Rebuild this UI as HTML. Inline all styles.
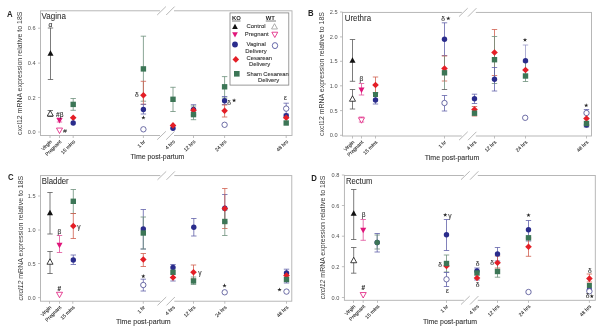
<!DOCTYPE html>
<html><head><meta charset="utf-8"><style>
html,body{margin:0;padding:0;background:#fff;width:602px;height:332px;overflow:hidden}
svg{display:block;filter:blur(0.35px)}
text{font-family:"Liberation Sans",sans-serif}
</style></head><body>
<svg width="602" height="332" viewBox="0 0 602 332">
<rect width="602" height="332" fill="#fff"/>
<rect x="40.5" y="10.8" width="251.5" height="124.7" fill="none" stroke="#b0b0b0" stroke-width="0.9"/>
<path d="M38.0 28.2H40.5" stroke="#b0b0b0" stroke-width="0.8"/>
<text x="35.5" y="30.25" font-size="5.6" text-anchor="end" fill="#505050" stroke="#505050" stroke-width="0" >0.6</text>
<path d="M38.0 63.1H40.5" stroke="#b0b0b0" stroke-width="0.8"/>
<text x="35.5" y="65.15" font-size="5.6" text-anchor="end" fill="#505050" stroke="#505050" stroke-width="0" >0.4</text>
<path d="M38.0 97.5H40.5" stroke="#b0b0b0" stroke-width="0.8"/>
<text x="35.5" y="99.55" font-size="5.6" text-anchor="end" fill="#505050" stroke="#505050" stroke-width="0" >0.2</text>
<path d="M38.0 132H40.5" stroke="#b0b0b0" stroke-width="0.8"/>
<text x="35.5" y="134.05" font-size="5.6" text-anchor="end" fill="#505050" stroke="#505050" stroke-width="0" >0.0</text>
<text transform="translate(21.8 73.3) rotate(-90)" font-size="6.9" text-anchor="middle" fill="#3a3a3a" textLength="123.4" lengthAdjust="spacingAndGlyphs">cxcl12 mRNA expression relative to 18S</text>
<path d="M50 135.5V138.0" stroke="#b0b0b0" stroke-width="0.8"/>
<text transform="translate(52.2 142.0) rotate(-45)" font-size="5.0" text-anchor="end" fill="#2a2a2a" stroke="#2a2a2a" stroke-width="0.1">Virgin</text>
<path d="M59.5 135.5V138.0" stroke="#b0b0b0" stroke-width="0.8"/>
<text transform="translate(61.7 142.0) rotate(-45)" font-size="5.0" text-anchor="end" fill="#2a2a2a" stroke="#2a2a2a" stroke-width="0.1">Pregnant</text>
<path d="M73.2 135.5V138.0" stroke="#b0b0b0" stroke-width="0.8"/>
<text transform="translate(75.4 142.0) rotate(-45)" font-size="5.0" text-anchor="end" fill="#2a2a2a" stroke="#2a2a2a" stroke-width="0.1">15 mins</text>
<path d="M143.4 135.5V138.0" stroke="#b0b0b0" stroke-width="0.8"/>
<text transform="translate(145.6 142.0) rotate(-45)" font-size="5.0" text-anchor="end" fill="#2a2a2a" stroke="#2a2a2a" stroke-width="0.1">1 hr</text>
<path d="M173 135.5V138.0" stroke="#b0b0b0" stroke-width="0.8"/>
<text transform="translate(175.2 142.0) rotate(-45)" font-size="5.0" text-anchor="end" fill="#2a2a2a" stroke="#2a2a2a" stroke-width="0.1">4 hrs</text>
<path d="M193.5 135.5V138.0" stroke="#b0b0b0" stroke-width="0.8"/>
<text transform="translate(195.7 142.0) rotate(-45)" font-size="5.0" text-anchor="end" fill="#2a2a2a" stroke="#2a2a2a" stroke-width="0.1">12 hrs</text>
<path d="M224.6 135.5V138.0" stroke="#b0b0b0" stroke-width="0.8"/>
<text transform="translate(226.79999999999998 142.0) rotate(-45)" font-size="5.0" text-anchor="end" fill="#2a2a2a" stroke="#2a2a2a" stroke-width="0.1">24 hrs</text>
<path d="M286.2 135.5V138.0" stroke="#b0b0b0" stroke-width="0.8"/>
<text transform="translate(288.4 142.0) rotate(-45)" font-size="5.0" text-anchor="end" fill="#2a2a2a" stroke="#2a2a2a" stroke-width="0.1">48 hrs</text>
<text x="130.4" y="159.2" font-size="6.95" text-anchor="start" fill="#333" stroke="#333" stroke-width="0.1" textLength="54.0" lengthAdjust="spacingAndGlyphs">Time post-partum</text>
<text x="7" y="16.8" font-size="9" font-weight="bold" fill="#222" textLength="5.6" lengthAdjust="spacingAndGlyphs">A</text>
<text x="41.5" y="18.8" font-size="8.6" text-anchor="start" fill="#2a2a2a" stroke="#2a2a2a" stroke-width="0.05" textLength="24.400000000000006" lengthAdjust="spacingAndGlyphs">Vagina</text>
<rect x="342.5" y="12.4" width="249.0" height="123.6" fill="none" stroke="#b0b0b0" stroke-width="0.9"/>
<path d="M340.0 12H342.5" stroke="#b0b0b0" stroke-width="0.8"/>
<text x="337.5" y="14.05" font-size="5.6" text-anchor="end" fill="#505050" stroke="#505050" stroke-width="0" >2.5</text>
<path d="M340.0 36.9H342.5" stroke="#b0b0b0" stroke-width="0.8"/>
<text x="337.5" y="38.949999999999996" font-size="5.6" text-anchor="end" fill="#505050" stroke="#505050" stroke-width="0" >2.0</text>
<path d="M340.0 61.3H342.5" stroke="#b0b0b0" stroke-width="0.8"/>
<text x="337.5" y="63.349999999999994" font-size="5.6" text-anchor="end" fill="#505050" stroke="#505050" stroke-width="0" >1.5</text>
<path d="M340.0 85.8H342.5" stroke="#b0b0b0" stroke-width="0.8"/>
<text x="337.5" y="87.85" font-size="5.6" text-anchor="end" fill="#505050" stroke="#505050" stroke-width="0" >1.0</text>
<path d="M340.0 110.6H342.5" stroke="#b0b0b0" stroke-width="0.8"/>
<text x="337.5" y="112.64999999999999" font-size="5.6" text-anchor="end" fill="#505050" stroke="#505050" stroke-width="0" >0.5</text>
<path d="M340.0 135.3H342.5" stroke="#b0b0b0" stroke-width="0.8"/>
<text x="337.5" y="137.35000000000002" font-size="5.6" text-anchor="end" fill="#505050" stroke="#505050" stroke-width="0" >0.0</text>
<text transform="translate(324.1 74.0) rotate(-90)" font-size="6.9" text-anchor="middle" fill="#3a3a3a" textLength="124" lengthAdjust="spacingAndGlyphs">cxcl12 mRNA expression relative to 18S</text>
<path d="M352.5 136V138.5" stroke="#b0b0b0" stroke-width="0.8"/>
<text transform="translate(354.7 142.5) rotate(-45)" font-size="5.0" text-anchor="end" fill="#2a2a2a" stroke="#2a2a2a" stroke-width="0.1">Virgin</text>
<path d="M361.5 136V138.5" stroke="#b0b0b0" stroke-width="0.8"/>
<text transform="translate(363.7 142.5) rotate(-45)" font-size="5.0" text-anchor="end" fill="#2a2a2a" stroke="#2a2a2a" stroke-width="0.1">Pregnant</text>
<path d="M375.5 136V138.5" stroke="#b0b0b0" stroke-width="0.8"/>
<text transform="translate(377.7 142.5) rotate(-45)" font-size="5.0" text-anchor="end" fill="#2a2a2a" stroke="#2a2a2a" stroke-width="0.1">15 mins</text>
<path d="M444.5 136V138.5" stroke="#b0b0b0" stroke-width="0.8"/>
<text transform="translate(446.7 142.5) rotate(-45)" font-size="5.0" text-anchor="end" fill="#2a2a2a" stroke="#2a2a2a" stroke-width="0.1">1 hr</text>
<path d="M474.5 136V138.5" stroke="#b0b0b0" stroke-width="0.8"/>
<text transform="translate(476.7 142.5) rotate(-45)" font-size="5.0" text-anchor="end" fill="#2a2a2a" stroke="#2a2a2a" stroke-width="0.1">4 hrs</text>
<path d="M494.5 136V138.5" stroke="#b0b0b0" stroke-width="0.8"/>
<text transform="translate(496.7 142.5) rotate(-45)" font-size="5.0" text-anchor="end" fill="#2a2a2a" stroke="#2a2a2a" stroke-width="0.1">12 hrs</text>
<path d="M525.5 136V138.5" stroke="#b0b0b0" stroke-width="0.8"/>
<text transform="translate(527.7 142.5) rotate(-45)" font-size="5.0" text-anchor="end" fill="#2a2a2a" stroke="#2a2a2a" stroke-width="0.1">24 hrs</text>
<path d="M586.5 136V138.5" stroke="#b0b0b0" stroke-width="0.8"/>
<text transform="translate(588.7 142.5) rotate(-45)" font-size="5.0" text-anchor="end" fill="#2a2a2a" stroke="#2a2a2a" stroke-width="0.1">48 hrs</text>
<text x="424.8" y="159.8" font-size="6.95" text-anchor="start" fill="#333" stroke="#333" stroke-width="0.1" textLength="54.39999999999998" lengthAdjust="spacingAndGlyphs">Time post-partum</text>
<text x="308" y="16.3" font-size="9" font-weight="bold" fill="#222" textLength="5.6" lengthAdjust="spacingAndGlyphs">B</text>
<text x="344.7" y="21.2" font-size="8.6" text-anchor="start" fill="#2a2a2a" stroke="#2a2a2a" stroke-width="0.05" textLength="26.350000000000023" lengthAdjust="spacingAndGlyphs">Urethra</text>
<rect x="40.5" y="175.6" width="251.3" height="125.6" fill="none" stroke="#b0b0b0" stroke-width="0.9"/>
<path d="M38.0 196H40.5" stroke="#b0b0b0" stroke-width="0.8"/>
<text x="35.5" y="198.05" font-size="5.6" text-anchor="end" fill="#505050" stroke="#505050" stroke-width="0" >1.5</text>
<path d="M38.0 230H40.5" stroke="#b0b0b0" stroke-width="0.8"/>
<text x="35.5" y="232.05" font-size="5.6" text-anchor="end" fill="#505050" stroke="#505050" stroke-width="0" >1.0</text>
<path d="M38.0 263.5H40.5" stroke="#b0b0b0" stroke-width="0.8"/>
<text x="35.5" y="265.55" font-size="5.6" text-anchor="end" fill="#505050" stroke="#505050" stroke-width="0" >0.5</text>
<path d="M38.0 297.6H40.5" stroke="#b0b0b0" stroke-width="0.8"/>
<text x="35.5" y="299.65000000000003" font-size="5.6" text-anchor="end" fill="#505050" stroke="#505050" stroke-width="0" >0.0</text>
<text transform="translate(22.6 238.15) rotate(-90)" font-size="6.9" text-anchor="middle" fill="#3a3a3a" textLength="124.90000000000003" lengthAdjust="spacingAndGlyphs"><tspan font-style="italic">cxcl12</tspan> mRNA expression relative to 18S</text>
<path d="M49.5 301.2V303.7" stroke="#b0b0b0" stroke-width="0.8"/>
<text transform="translate(51.7 307.7) rotate(-45)" font-size="5.0" text-anchor="end" fill="#2a2a2a" stroke="#2a2a2a" stroke-width="0.1">Virgin</text>
<path d="M59.5 301.2V303.7" stroke="#b0b0b0" stroke-width="0.8"/>
<text transform="translate(61.7 307.7) rotate(-45)" font-size="5.0" text-anchor="end" fill="#2a2a2a" stroke="#2a2a2a" stroke-width="0.1">Pregnant</text>
<path d="M72.8 301.2V303.7" stroke="#b0b0b0" stroke-width="0.8"/>
<text transform="translate(75.0 307.7) rotate(-45)" font-size="5.0" text-anchor="end" fill="#2a2a2a" stroke="#2a2a2a" stroke-width="0.1">15 mins</text>
<path d="M143.3 301.2V303.7" stroke="#b0b0b0" stroke-width="0.8"/>
<text transform="translate(145.5 307.7) rotate(-45)" font-size="5.0" text-anchor="end" fill="#2a2a2a" stroke="#2a2a2a" stroke-width="0.1">1 hr</text>
<path d="M173 301.2V303.7" stroke="#b0b0b0" stroke-width="0.8"/>
<text transform="translate(175.2 307.7) rotate(-45)" font-size="5.0" text-anchor="end" fill="#2a2a2a" stroke="#2a2a2a" stroke-width="0.1">4 hrs</text>
<path d="M193.5 301.2V303.7" stroke="#b0b0b0" stroke-width="0.8"/>
<text transform="translate(195.7 307.7) rotate(-45)" font-size="5.0" text-anchor="end" fill="#2a2a2a" stroke="#2a2a2a" stroke-width="0.1">12 hrs</text>
<path d="M224.8 301.2V303.7" stroke="#b0b0b0" stroke-width="0.8"/>
<text transform="translate(227.0 307.7) rotate(-45)" font-size="5.0" text-anchor="end" fill="#2a2a2a" stroke="#2a2a2a" stroke-width="0.1">24 hrs</text>
<path d="M286.5 301.2V303.7" stroke="#b0b0b0" stroke-width="0.8"/>
<text transform="translate(288.7 307.7) rotate(-45)" font-size="5.0" text-anchor="end" fill="#2a2a2a" stroke="#2a2a2a" stroke-width="0.1">48 hrs</text>
<text x="116" y="324.1" font-size="6.95" text-anchor="start" fill="#333" stroke="#333" stroke-width="0.1" textLength="54.69999999999999" lengthAdjust="spacingAndGlyphs">Time post-partum</text>
<text x="7.9" y="180.2" font-size="9" font-weight="bold" fill="#222" textLength="5.6" lengthAdjust="spacingAndGlyphs">C</text>
<text x="41.8" y="183.8" font-size="8.6" text-anchor="start" fill="#2a2a2a" stroke="#2a2a2a" stroke-width="0.05" textLength="26.900000000000006" lengthAdjust="spacingAndGlyphs">Bladder</text>
<rect x="344.4" y="175.5" width="250.89999999999998" height="124.80000000000001" fill="none" stroke="#b0b0b0" stroke-width="0.9"/>
<path d="M341.9 175H344.4" stroke="#b0b0b0" stroke-width="0.8"/>
<text x="339.4" y="177.05" font-size="5.6" text-anchor="end" fill="#505050" stroke="#505050" stroke-width="0" >0.8</text>
<path d="M341.9 205.5H344.4" stroke="#b0b0b0" stroke-width="0.8"/>
<text x="339.4" y="207.55" font-size="5.6" text-anchor="end" fill="#505050" stroke="#505050" stroke-width="0" >0.6</text>
<path d="M341.9 236.2H344.4" stroke="#b0b0b0" stroke-width="0.8"/>
<text x="339.4" y="238.25" font-size="5.6" text-anchor="end" fill="#505050" stroke="#505050" stroke-width="0" >0.4</text>
<path d="M341.9 266.7H344.4" stroke="#b0b0b0" stroke-width="0.8"/>
<text x="339.4" y="268.75" font-size="5.6" text-anchor="end" fill="#505050" stroke="#505050" stroke-width="0" >0.2</text>
<path d="M341.9 297.5H344.4" stroke="#b0b0b0" stroke-width="0.8"/>
<text x="339.4" y="299.55" font-size="5.6" text-anchor="end" fill="#505050" stroke="#505050" stroke-width="0" >0.0</text>
<text transform="translate(324.8 237.5) rotate(-90)" font-size="6.9" text-anchor="middle" fill="#3a3a3a" textLength="123.60000000000002" lengthAdjust="spacingAndGlyphs"><tspan font-style="italic">cxcl12</tspan> mRNA expression relative to 18S</text>
<path d="M353.5 300.3V302.8" stroke="#b0b0b0" stroke-width="0.8"/>
<text transform="translate(355.7 306.8) rotate(-45)" font-size="5.0" text-anchor="end" fill="#2a2a2a" stroke="#2a2a2a" stroke-width="0.1">Virgin</text>
<path d="M363.2 300.3V302.8" stroke="#b0b0b0" stroke-width="0.8"/>
<text transform="translate(365.4 306.8) rotate(-45)" font-size="5.0" text-anchor="end" fill="#2a2a2a" stroke="#2a2a2a" stroke-width="0.1">Pregnant</text>
<path d="M377.5 300.3V302.8" stroke="#b0b0b0" stroke-width="0.8"/>
<text transform="translate(379.7 306.8) rotate(-45)" font-size="5.0" text-anchor="end" fill="#2a2a2a" stroke="#2a2a2a" stroke-width="0.1">15 mins</text>
<path d="M446.5 300.3V302.8" stroke="#b0b0b0" stroke-width="0.8"/>
<text transform="translate(448.7 306.8) rotate(-45)" font-size="5.0" text-anchor="end" fill="#2a2a2a" stroke="#2a2a2a" stroke-width="0.1">1 hr</text>
<path d="M477 300.3V302.8" stroke="#b0b0b0" stroke-width="0.8"/>
<text transform="translate(479.2 306.8) rotate(-45)" font-size="5.0" text-anchor="end" fill="#2a2a2a" stroke="#2a2a2a" stroke-width="0.1">4 hrs</text>
<path d="M497.5 300.3V302.8" stroke="#b0b0b0" stroke-width="0.8"/>
<text transform="translate(499.7 306.8) rotate(-45)" font-size="5.0" text-anchor="end" fill="#2a2a2a" stroke="#2a2a2a" stroke-width="0.1">12 hrs</text>
<path d="M528.5 300.3V302.8" stroke="#b0b0b0" stroke-width="0.8"/>
<text transform="translate(530.7 306.8) rotate(-45)" font-size="5.0" text-anchor="end" fill="#2a2a2a" stroke="#2a2a2a" stroke-width="0.1">24 hrs</text>
<path d="M589.4 300.3V302.8" stroke="#b0b0b0" stroke-width="0.8"/>
<text transform="translate(591.6 306.8) rotate(-45)" font-size="5.0" text-anchor="end" fill="#2a2a2a" stroke="#2a2a2a" stroke-width="0.1">48 hrs</text>
<text x="423" y="324.1" font-size="6.95" text-anchor="start" fill="#333" stroke="#333" stroke-width="0.1" textLength="54.10000000000002" lengthAdjust="spacingAndGlyphs">Time post-partum</text>
<text x="311.3" y="180.6" font-size="9" font-weight="bold" fill="#222" textLength="5.6" lengthAdjust="spacingAndGlyphs">D</text>
<text x="345.9" y="183.8" font-size="8.6" text-anchor="start" fill="#2a2a2a" stroke="#2a2a2a" stroke-width="0.05" textLength="26.5" lengthAdjust="spacingAndGlyphs">Rectum</text>
<rect x="160" y="9.3" width="14" height="4.5" fill="#fff"/>
<path d="M157.2 15.0L165.9 6.6000000000000005M166.2 15.0L174.6 6.6000000000000005" stroke="#999" stroke-width="0.7"/>
<rect x="160" y="134.0" width="14" height="4.5" fill="#fff"/>
<path d="M157.2 139.7L165.9 131.3M166.2 139.7L174.6 131.3" stroke="#999" stroke-width="0.7"/>
<rect x="461.8" y="10.9" width="14" height="4.5" fill="#fff"/>
<path d="M459.0 16.6L467.7 8.2M468.0 16.6L476.40000000000003 8.2" stroke="#999" stroke-width="0.7"/>
<rect x="461.8" y="134.5" width="14" height="4.5" fill="#fff"/>
<path d="M459.0 140.2L467.7 131.8M468.0 140.2L476.40000000000003 131.8" stroke="#999" stroke-width="0.7"/>
<rect x="160.3" y="174.1" width="14" height="4.5" fill="#fff"/>
<path d="M157.5 179.79999999999998L166.20000000000002 171.4M166.5 179.79999999999998L174.9 171.4" stroke="#999" stroke-width="0.7"/>
<rect x="160.3" y="299.7" width="14" height="4.5" fill="#fff"/>
<path d="M157.5 305.4L166.20000000000002 297.0M166.5 305.4L174.9 297.0" stroke="#999" stroke-width="0.7"/>
<rect x="463.8" y="174.0" width="14" height="4.5" fill="#fff"/>
<path d="M461.0 179.7L469.7 171.3M470.0 179.7L478.40000000000003 171.3" stroke="#999" stroke-width="0.7"/>
<rect x="463.8" y="298.8" width="14" height="4.5" fill="#fff"/>
<path d="M461.0 304.5L469.7 296.1M470.0 304.5L478.40000000000003 296.1" stroke="#999" stroke-width="0.7"/>
<path d="M50.5 28V79.5M47.8 28H53.2M47.8 79.5H53.2" stroke="#5a5a5a" stroke-width="0.8" fill="none"/>
<path d="M50.5 50.3L53.54 55.74L47.46 55.74Z" fill="#111111"/>
<text x="50.5" y="27" font-size="6.6" text-anchor="middle" fill="#333" stroke="#333" stroke-width="0.12" font-family="Liberation Sans">&#945;</text>
<path d="M50.3 110.5V116.5M47.599999999999994 110.5H53.0M47.599999999999994 116.5H53.0" stroke="#5a5a5a" stroke-width="0.8" fill="none"/>
<path d="M50.3 110.6L53.339999999999996 116.03999999999999L47.26 116.03999999999999Z" fill="#fff" stroke="#111111" stroke-width="0.8"/>
<path d="M59.5 118V122M56.8 118H62.2M56.8 122H62.2" stroke="#e0509a" stroke-width="0.8" fill="none"/>
<path d="M59.5 123.4L62.54 117.96000000000001L56.46 117.96000000000001Z" fill="#e0157a"/>
<text x="56" y="116.5" font-size="6.6" text-anchor="start" fill="#2a2a2a" stroke="#2a2a2a" stroke-width="0.1" >#&#946;</text>
<path d="M59.5 133.5L62.54 128.06L56.46 128.06Z" fill="#fff" stroke="#e0157a" stroke-width="0.8"/>
<text x="63.3" y="133.2" font-size="6.2" text-anchor="start" fill="#333" stroke="#333" stroke-width="0.1" >#</text>
<path d="M73.2 98.5V110.3M70.5 98.5H75.9M70.5 110.3H75.9" stroke="#6e907c" stroke-width="0.8" fill="none"/>
<rect x="70.5" y="101.7" width="5.4" height="5.4" fill="#3c7656"/>
<path d="M73.2 114.4L76.5 117.7L73.2 121.0L69.9 117.7Z" fill="#e41e26"/>
<circle cx="73.2" cy="123" r="2.7" fill="#2a2c8c"/>
<path d="M143.4 36.2V101.2M140.70000000000002 36.2H146.1M140.70000000000002 101.2H146.1" stroke="#6e907c" stroke-width="0.8" fill="none"/>
<path d="M143.4 81.3V104.3M140.70000000000002 81.3H146.1M140.70000000000002 104.3H146.1" stroke="#d0604f" stroke-width="0.8" fill="none"/>
<path d="M143.4 104.3V114M140.70000000000002 104.3H146.1M140.70000000000002 114H146.1" stroke="#6262aa" stroke-width="0.8" fill="none"/>
<rect x="140.70000000000002" y="66.2" width="5.4" height="5.4" fill="#3c7656"/>
<path d="M143.4 92.0L146.70000000000002 95.3L143.4 98.6L140.1 95.3Z" fill="#e41e26"/>
<text x="136.8" y="97.3" font-size="6.6" text-anchor="middle" fill="#333" stroke="#333" stroke-width="0.12" font-family="Liberation Sans">&#948;</text>
<circle cx="143.4" cy="109.5" r="2.7" fill="#2a2c8c"/>
<polygon points="143.40,115.30 143.91,116.89 145.59,116.89 144.23,117.87 144.75,119.46 143.40,118.47 142.05,119.46 142.57,117.87 141.21,116.89 142.89,116.89" fill="#222"/>
<circle cx="143.4" cy="129.3" r="2.7" fill="#fff" stroke="#4a4a90" stroke-width="0.8"/>
<path d="M173 87.3V111.5M170.3 87.3H175.7M170.3 111.5H175.7" stroke="#6e907c" stroke-width="0.8" fill="none"/>
<rect x="170.3" y="96.6" width="5.4" height="5.4" fill="#3c7656"/>
<circle cx="173" cy="128.2" r="2.7" fill="#2a2c8c"/>
<path d="M173 122.10000000000001L176.3 125.4L173 128.70000000000002L169.7 125.4Z" fill="#e41e26"/>
<path d="M193.5 104.7V115M190.8 104.7H196.2M190.8 115H196.2" stroke="#6262aa" stroke-width="0.8" fill="none"/>
<path d="M193.5 106V119.7M190.8 106H196.2M190.8 119.7H196.2" stroke="#6e907c" stroke-width="0.8" fill="none"/>
<circle cx="193.5" cy="109.5" r="2.7" fill="#2a2c8c"/>
<path d="M193.5 107.0L196.8 110.3L193.5 113.6L190.2 110.3Z" fill="#e41e26"/>
<rect x="190.8" y="111.89999999999999" width="5.4" height="5.4" fill="#3c7656"/>
<path d="M224.6 76.6V98M221.9 76.6H227.29999999999998M221.9 98H227.29999999999998" stroke="#6e907c" stroke-width="0.8" fill="none"/>
<path d="M224.6 96.5V104.5M221.9 96.5H227.29999999999998M221.9 104.5H227.29999999999998" stroke="#6262aa" stroke-width="0.8" fill="none"/>
<path d="M224.6 105V117M221.9 105H227.29999999999998M221.9 117H227.29999999999998" stroke="#d0604f" stroke-width="0.8" fill="none"/>
<rect x="221.9" y="84.1" width="5.4" height="5.4" fill="#3c7656"/>
<circle cx="224.6" cy="100.7" r="2.7" fill="#2a2c8c"/>
<text x="229.1" y="104.6" font-size="6.6" text-anchor="middle" fill="#333" stroke="#333" stroke-width="0.12" font-family="Liberation Sans">&#948;</text>
<polygon points="234.10,98.20 234.61,99.79 236.29,99.79 234.93,100.77 235.45,102.36 234.10,101.37 232.75,102.36 233.27,100.77 231.91,99.79 233.59,99.79" fill="#222"/>
<path d="M224.6 107.5L227.9 110.8L224.6 114.1L221.29999999999998 110.8Z" fill="#e41e26"/>
<circle cx="224.6" cy="124.8" r="2.7" fill="#fff" stroke="#4a4a90" stroke-width="0.8"/>
<text x="285.6" y="100.3" font-size="6.6" text-anchor="middle" fill="#333" stroke="#333" stroke-width="0.12" font-family="Liberation Sans">&#949;</text>
<path d="M286.2 103.2V114M283.5 103.2H288.9M283.5 114H288.9" stroke="#6262aa" stroke-width="0.8" fill="none"/>
<circle cx="286.2" cy="108.6" r="2.7" fill="#fff" stroke="#4a4a90" stroke-width="0.8"/>
<circle cx="286.2" cy="115.7" r="2.7" fill="#2a2c8c"/>
<path d="M286.2 114.5L289.5 117.8L286.2 121.1L282.9 117.8Z" fill="#e41e26"/>
<rect x="283.5" y="120.3" width="5.4" height="5.4" fill="#3c7656"/>
<rect x="230" y="12.9" width="58.8" height="72.2" fill="#fff" stroke="#808080" stroke-width="0.8"/>
<text x="232" y="20" font-size="5.9" font-weight="bold" fill="#222">KO</text><path d="M232 21H240.5" stroke="#222" stroke-width="0.6"/>
<text x="265.8" y="20" font-size="5.9" font-weight="bold" fill="#222">WT</text><path d="M265.8 21H276" stroke="#222" stroke-width="0.6"/>
<path d="M235 23.8L237.85 28.9L232.15 28.9Z" fill="#111111"/>
<text x="246.5" y="27.6" font-size="5.9" text-anchor="start" fill="#333" stroke="#333" stroke-width="0.1" >Control</text>
<path d="M274.5 23.7L277.445 28.97L271.555 28.97Z" fill="#fff" stroke="#999" stroke-width="0.8"/>
<path d="M235 37.4L237.85 32.3L232.15 32.3Z" fill="#e0157a"/>
<text x="244.8" y="36.3" font-size="5.9" text-anchor="start" fill="#333" stroke="#333" stroke-width="0.1" >Pregnant</text>
<path d="M274.8 37.5L277.745 32.23L271.855 32.23Z" fill="#fff" stroke="#e0157a" stroke-width="0.8"/>
<circle cx="235" cy="44.5" r="2.9" fill="#2a2c8c"/>
<text x="246.5" y="45.7" font-size="5.9" text-anchor="start" fill="#333" stroke="#333" stroke-width="0.1" >Vaginal</text>
<text x="245.3" y="52.5" font-size="5.9" text-anchor="start" fill="#333" stroke="#333" stroke-width="0.1" >Delivery</text>
<ellipse cx="275" cy="45.6" rx="2.7" ry="3.0" fill="#fff" stroke="#3a3c90" stroke-width="0.75"/>
<path d="M235.8 56.1L239.10000000000002 59.4L235.8 62.699999999999996L232.5 59.4Z" fill="#e41e26"/>
<text x="246.5" y="60.4" font-size="5.9" text-anchor="start" fill="#333" stroke="#333" stroke-width="0.1" >Cesarean</text>
<text x="249" y="66.4" font-size="5.9" text-anchor="start" fill="#333" stroke="#333" stroke-width="0.1" >Delivery</text>
<rect x="234.0" y="71.0" width="5.6" height="5.6" fill="#3c7656"/>
<text x="246.5" y="75.6" font-size="5.9" text-anchor="start" fill="#333" stroke="#333" stroke-width="0.1" textLength="42.2" lengthAdjust="spacingAndGlyphs">Sham Cesarean</text>
<text x="258" y="81.5" font-size="5.9" text-anchor="start" fill="#333" stroke="#333" stroke-width="0.1" >Delivery</text>
<path d="M352.5 39.5V81.3M349.8 39.5H355.2M349.8 81.3H355.2" stroke="#5a5a5a" stroke-width="0.8" fill="none"/>
<path d="M352.5 57.3L355.54 62.74L349.46 62.74Z" fill="#111111"/>
<path d="M352.5 89.5V109M349.8 89.5H355.2M349.8 109H355.2" stroke="#5a5a5a" stroke-width="0.8" fill="none"/>
<path d="M352.5 95.8L355.54 101.24L349.46 101.24Z" fill="#fff" stroke="#111111" stroke-width="0.8"/>
<text x="361.3" y="80.5" font-size="6.6" text-anchor="middle" fill="#333" stroke="#333" stroke-width="0.12" font-family="Liberation Sans">&#946;</text>
<path d="M361.5 83.5V95M358.8 83.5H364.2M358.8 95H364.2" stroke="#e0509a" stroke-width="0.8" fill="none"/>
<path d="M361.5 93.0L364.54 87.56L358.46 87.56Z" fill="#e0157a"/>
<path d="M361.5 117V122M358.8 117H364.2M358.8 122H364.2" stroke="#e0509a" stroke-width="0.8" fill="none"/>
<path d="M361.5 123.2L364.54 117.76L358.46 117.76Z" fill="#fff" stroke="#e0157a" stroke-width="0.8"/>
<path d="M375.5 77V92.5M372.8 77H378.2M372.8 92.5H378.2" stroke="#d0604f" stroke-width="0.8" fill="none"/>
<path d="M375.5 93V104M372.8 93H378.2M372.8 104H378.2" stroke="#6262aa" stroke-width="0.8" fill="none"/>
<path d="M375.5 81.7L378.8 85L375.5 88.3L372.2 85Z" fill="#e41e26"/>
<circle cx="375.5" cy="100" r="2.7" fill="#2a2c8c"/>
<rect x="373.0" y="92.0" width="5.0" height="5.0" fill="#3c7656"/>
<text x="443.2" y="20.8" font-size="6.6" text-anchor="middle" fill="#333" stroke="#333" stroke-width="0.12" font-family="Liberation Sans">&#948;</text>
<polygon points="448.30,16.20 448.81,17.79 450.49,17.79 449.13,18.77 449.65,20.36 448.30,19.37 446.95,20.36 447.47,18.77 446.11,17.79 447.79,17.79" fill="#222"/>
<path d="M444.5 22.8V55.5M441.8 22.8H447.2M441.8 55.5H447.2" stroke="#6262aa" stroke-width="0.8" fill="none"/>
<path d="M444.5 56V81M441.8 56H447.2M441.8 81H447.2" stroke="#d0604f" stroke-width="0.8" fill="none"/>
<path d="M444.5 56V89.5M444.5 56H444.5M444.5 89.5H444.5" stroke="#6e907c" stroke-width="0.8" fill="none"/>
<path d="M441.8 89.5H447.2" stroke="#5a5a5a" stroke-width="0.8"/>
<circle cx="444.5" cy="39.3" r="2.7" fill="#2a2c8c"/>
<path d="M444.5 65.2L447.8 68.5L444.5 71.8L441.2 68.5Z" fill="#e41e26"/>
<rect x="441.8" y="70.1" width="5.4" height="5.4" fill="#3c7656"/>
<path d="M444.5 95.5V111M441.8 95.5H447.2M441.8 111H447.2" stroke="#6262aa" stroke-width="0.8" fill="none"/>
<circle cx="444.5" cy="103" r="2.7" fill="#fff" stroke="#4a4a90" stroke-width="0.8"/>
<path d="M474.5 94.2V103.5M471.8 94.2H477.2M471.8 103.5H477.2" stroke="#6262aa" stroke-width="0.8" fill="none"/>
<path d="M474.5 106.5V116M471.8 106.5H477.2M471.8 116H477.2" stroke="#d0604f" stroke-width="0.8" fill="none"/>
<circle cx="474.5" cy="98.8" r="2.7" fill="#2a2c8c"/>
<path d="M474.5 106.2L477.8 109.5L474.5 112.8L471.2 109.5Z" fill="#e41e26"/>
<rect x="471.8" y="110.5" width="5.4" height="5.4" fill="#3c7656"/>
<path d="M494.5 29.5V75.5M491.8 29.5H497.2M491.8 75.5H497.2" stroke="#d0604f" stroke-width="0.8" fill="none"/>
<path d="M494.5 36.5V83.5M491.8 36.5H497.2M491.8 83.5H497.2" stroke="#6e907c" stroke-width="0.8" fill="none"/>
<path d="M494.5 67.5V91M491.8 67.5H497.2M491.8 91H497.2" stroke="#6262aa" stroke-width="0.8" fill="none"/>
<path d="M494.5 49.2L497.8 52.5L494.5 55.8L491.2 52.5Z" fill="#e41e26"/>
<rect x="491.8" y="57.0" width="5.4" height="5.4" fill="#3c7656"/>
<circle cx="494.5" cy="79.2" r="2.7" fill="#2a2c8c"/>
<polygon points="525.00,37.70 525.51,39.29 527.19,39.29 525.83,40.27 526.35,41.86 525.00,40.87 523.65,41.86 524.17,40.27 522.81,39.29 524.49,39.29" fill="#222"/>
<path d="M525.5 45V70M522.8 45H528.2M522.8 70H528.2" stroke="#9a9ac8" stroke-width="0.8" fill="none"/>
<path d="M525.5 62V81.5M522.8 62H528.2M522.8 81.5H528.2" stroke="#6e907c" stroke-width="0.8" fill="none"/>
<circle cx="525.5" cy="60.8" r="2.7" fill="#2a2c8c"/>
<path d="M525.5 66.7L528.8 70L525.5 73.3L522.2 70Z" fill="#e41e26"/>
<rect x="522.8" y="73.3" width="5.4" height="5.4" fill="#3c7656"/>
<circle cx="525.2" cy="117.8" r="2.7" fill="#fff" stroke="#4a4a90" stroke-width="0.8"/>
<polygon points="586.20,103.20 586.71,104.79 588.39,104.79 587.03,105.77 587.55,107.36 586.20,106.37 584.85,107.36 585.37,105.77 584.01,104.79 585.69,104.79" fill="#222"/>
<path d="M586.5 109.5V127M583.8 109.5H589.2M583.8 127H589.2" stroke="#6262aa" stroke-width="0.8" fill="none"/>
<circle cx="586.5" cy="113" r="2.7" fill="#fff" stroke="#4a4a90" stroke-width="0.8"/>
<circle cx="586.5" cy="125" r="2.7" fill="#2a2c8c"/>
<path d="M586.5 115.2L589.8 118.5L586.5 121.8L583.2 118.5Z" fill="#e41e26"/>
<rect x="583.8" y="120.8" width="5.4" height="5.4" fill="#3c7656"/>
<path d="M50 192.5V234M47.3 192.5H52.7M47.3 234H52.7" stroke="#5a5a5a" stroke-width="0.8" fill="none"/>
<path d="M50 209.8L53.04 215.24L46.96 215.24Z" fill="#111111"/>
<path d="M50 251.5V273.5M47.3 251.5H52.7M47.3 273.5H52.7" stroke="#5a5a5a" stroke-width="0.8" fill="none"/>
<path d="M50 258.8L53.04 264.24L46.96 264.24Z" fill="#fff" stroke="#111111" stroke-width="0.8"/>
<text x="59.5" y="234" font-size="6.6" text-anchor="middle" fill="#333" stroke="#333" stroke-width="0.12" font-family="Liberation Sans">&#946;</text>
<path d="M59.5 235.5V252.5M56.8 235.5H62.2M56.8 252.5H62.2" stroke="#e0509a" stroke-width="0.8" fill="none"/>
<path d="M59.5 248.2L62.54 242.76L56.46 242.76Z" fill="#e0157a"/>
<text x="59.3" y="290.8" font-size="6.4" text-anchor="middle" fill="#222" stroke="#222" stroke-width="0.1" font-weight="bold">#</text>
<path d="M59.5 297.7L62.54 292.26L56.46 292.26Z" fill="#fff" stroke="#e0157a" stroke-width="0.8"/>
<path d="M73.3 189.5V213.5M70.6 189.5H76.0M70.6 213.5H76.0" stroke="#6e907c" stroke-width="0.8" fill="none"/>
<path d="M73.3 213.5V238.5M70.6 213.5H76.0M70.6 238.5H76.0" stroke="#d0604f" stroke-width="0.8" fill="none"/>
<path d="M73.3 255V264.5M70.6 255H76.0M70.6 264.5H76.0" stroke="#6262aa" stroke-width="0.8" fill="none"/>
<rect x="70.6" y="198.60000000000002" width="5.4" height="5.4" fill="#3c7656"/>
<path d="M73.3 222.7L76.6 226L73.3 229.3L70.0 226Z" fill="#e41e26"/>
<text x="79" y="228.8" font-size="6.6" text-anchor="middle" fill="#333" stroke="#333" stroke-width="0.12" font-family="Liberation Sans">&#947;</text>
<circle cx="73.3" cy="260" r="2.7" fill="#2a2c8c"/>
<path d="M143.3 209.5V249M140.60000000000002 209.5H146.0M140.60000000000002 249H146.0" stroke="#6262aa" stroke-width="0.8" fill="none"/>
<path d="M143.3 217V249M140.60000000000002 217H146.0M140.60000000000002 249H146.0" stroke="#6e907c" stroke-width="0.8" fill="none"/>
<path d="M143.3 253.5V266.5M140.60000000000002 253.5H146.0M140.60000000000002 266.5H146.0" stroke="#d0604f" stroke-width="0.8" fill="none"/>
<circle cx="143.3" cy="229" r="2.7" fill="#2a2c8c"/>
<rect x="140.60000000000002" y="230.3" width="5.4" height="5.4" fill="#3c7656"/>
<path d="M143.3 256.2L146.60000000000002 259.5L143.3 262.8L140.0 259.5Z" fill="#e41e26"/>
<polygon points="143.30,274.10 143.79,275.62 145.39,275.62 144.10,276.56 144.59,278.08 143.30,277.14 142.01,278.08 142.50,276.56 141.21,275.62 142.81,275.62" fill="#222"/>
<path d="M143.3 279.2V291M140.60000000000002 279.2H146.0M140.60000000000002 291H146.0" stroke="#6262aa" stroke-width="0.8" fill="none"/>
<circle cx="143.3" cy="285" r="2.7" fill="#fff" stroke="#4a4a90" stroke-width="0.8"/>
<path d="M173 264.5V281M170.3 264.5H175.7M170.3 281H175.7" stroke="#6262aa" stroke-width="0.8" fill="none"/>
<circle cx="173" cy="267.5" r="2.7" fill="#2a2c8c"/>
<rect x="170.3" y="269.6" width="5.4" height="5.4" fill="#3c7656"/>
<path d="M173 274.2L176.3 277.5L173 280.8L169.7 277.5Z" fill="#e41e26"/>
<path d="M193.8 218.5V236M191.10000000000002 218.5H196.5M191.10000000000002 236H196.5" stroke="#6262aa" stroke-width="0.8" fill="none"/>
<circle cx="193.8" cy="227.3" r="2.7" fill="#2a2c8c"/>
<path d="M193.5 265V279M190.8 265H196.2M190.8 279H196.2" stroke="#d0604f" stroke-width="0.8" fill="none"/>
<path d="M193.5 268.9L196.8 272.2L193.5 275.5L190.2 272.2Z" fill="#e41e26"/>
<text x="199.8" y="274.5" font-size="6.6" text-anchor="middle" fill="#333" stroke="#333" stroke-width="0.12" font-family="Liberation Sans">&#947;</text>
<path d="M193.5 277V284.5M190.8 277H196.2M190.8 284.5H196.2" stroke="#6e907c" stroke-width="0.8" fill="none"/>
<rect x="190.8" y="278.3" width="5.4" height="5.4" fill="#3c7656"/>
<path d="M224.8 194.5V222M222.10000000000002 194.5H227.5M222.10000000000002 222H227.5" stroke="#6262aa" stroke-width="0.8" fill="none"/>
<path d="M224.8 188.5V228.5M222.10000000000002 188.5H227.5M222.10000000000002 228.5H227.5" stroke="#d0604f" stroke-width="0.8" fill="none"/>
<path d="M224.8 210V235.5M222.10000000000002 210H227.5M222.10000000000002 235.5H227.5" stroke="#6e907c" stroke-width="0.8" fill="none"/>
<circle cx="224.8" cy="208.3" r="2.7" fill="#2a2c8c"/>
<path d="M224.8 205.2L228.10000000000002 208.5L224.8 211.8L221.5 208.5Z" fill="#e41e26"/>
<rect x="222.10000000000002" y="218.8" width="5.4" height="5.4" fill="#3c7656"/>
<polygon points="224.50,283.30 225.01,284.89 226.69,284.89 225.33,285.87 225.85,287.46 224.50,286.47 223.15,287.46 223.67,285.87 222.31,284.89 223.99,284.89" fill="#222"/>
<circle cx="224.7" cy="292.3" r="2.7" fill="#fff" stroke="#4a4a90" stroke-width="0.8"/>
<path d="M286.5 269.2V283M283.8 269.2H289.2M283.8 283H289.2" stroke="#6262aa" stroke-width="0.8" fill="none"/>
<circle cx="286.5" cy="273" r="2.7" fill="#2a2c8c"/>
<path d="M286.5 272.2L289.8 275.5L286.5 278.8L283.2 275.5Z" fill="#e41e26"/>
<rect x="283.8" y="276.8" width="5.4" height="5.4" fill="#3c7656"/>
<polygon points="279.50,287.40 280.01,288.99 281.69,288.99 280.33,289.97 280.85,291.56 279.50,290.57 278.15,291.56 278.67,289.97 277.31,288.99 278.99,288.99" fill="#222"/>
<circle cx="286.5" cy="291.6" r="2.7" fill="#fff" stroke="#4a4a90" stroke-width="0.8"/>
<path d="M353.7 189.5V239.5M351.0 189.5H356.4M351.0 239.5H356.4" stroke="#5a5a5a" stroke-width="0.8" fill="none"/>
<path d="M353.7 210.3L356.74 215.74L350.65999999999997 215.74Z" fill="#111111"/>
<path d="M353.7 247.5V273.2M351.0 247.5H356.4M351.0 273.2H356.4" stroke="#5a5a5a" stroke-width="0.8" fill="none"/>
<path d="M353.7 257.3L356.74 262.74L350.65999999999997 262.74Z" fill="#fff" stroke="#111111" stroke-width="0.8"/>
<text x="363.6" y="216.5" font-size="6.6" text-anchor="middle" fill="#333" stroke="#333" stroke-width="0.12" font-family="Liberation Sans">&#946;</text>
<path d="M363.2 219.5V240.3M360.5 219.5H365.9M360.5 240.3H365.9" stroke="#e0509a" stroke-width="0.8" fill="none"/>
<path d="M363.2 233.2L366.24 227.76L360.15999999999997 227.76Z" fill="#e0157a"/>
<text x="363.2" y="290.3" font-size="6.4" text-anchor="middle" fill="#222" stroke="#222" stroke-width="0.1" font-weight="bold">#</text>
<path d="M363.2 298.0L366.24 292.56L360.15999999999997 292.56Z" fill="#fff" stroke="#e0157a" stroke-width="0.8"/>
<path d="M377.2 233.5V252M374.5 233.5H379.9M374.5 252H379.9" stroke="#6262aa" stroke-width="0.8" fill="none"/>
<path d="M377.2 235V249M374.5 235H379.9M374.5 249H379.9" stroke="#6e907c" stroke-width="0.8" fill="none"/>
<circle cx="377.2" cy="242.5" r="2.7" fill="#2a2c8c"/>
<circle cx="377.2" cy="242.5" r="2.7" fill="#3c7656"/>
<polygon points="445.20,212.70 445.71,214.29 447.39,214.29 446.03,215.27 446.55,216.86 445.20,215.87 443.85,216.86 444.37,215.27 443.01,214.29 444.69,214.29" fill="#222"/>
<text x="449.8" y="217.5" font-size="6.6" text-anchor="middle" fill="#333" stroke="#333" stroke-width="0.12" font-family="Liberation Sans">&#947;</text>
<path d="M446.5 219.5V250.5M443.8 219.5H449.2M443.8 250.5H449.2" stroke="#6262aa" stroke-width="0.8" fill="none"/>
<path d="M446.5 255V272M443.8 255H449.2M443.8 272H449.2" stroke="#6e907c" stroke-width="0.8" fill="none"/>
<circle cx="446.5" cy="234.8" r="2.7" fill="#2a2c8c"/>
<path d="M446.5 262.7L449.8 266L446.5 269.3L443.2 266Z" fill="#e41e26"/>
<rect x="443.8" y="260.8" width="5.4" height="5.4" fill="#3c7656"/>
<text x="440.2" y="267" font-size="6.6" text-anchor="middle" fill="#333" stroke="#333" stroke-width="0.12" font-family="Liberation Sans">&#948;</text>
<path d="M446.5 272.5V286.5M443.8 272.5H449.2M443.8 286.5H449.2" stroke="#6262aa" stroke-width="0.8" fill="none"/>
<circle cx="446.5" cy="279.3" r="2.7" fill="#fff" stroke="#4a4a90" stroke-width="0.8"/>
<text x="447.5" y="293" font-size="6.6" text-anchor="middle" fill="#333" stroke="#333" stroke-width="0.12" font-family="Liberation Sans">&#949;</text>
<text x="477.5" y="265.5" font-size="6.6" text-anchor="middle" fill="#333" stroke="#333" stroke-width="0.12" font-family="Liberation Sans">&#948;</text>
<path d="M477 268V280M474.3 268H479.7M474.3 280H479.7" stroke="#6262aa" stroke-width="0.8" fill="none"/>
<circle cx="477" cy="271" r="2.7" fill="#2a2c8c"/>
<rect x="474.3" y="270.3" width="5.4" height="5.4" fill="#3c7656"/>
<path d="M477 274.7L480.3 278L477 281.3L473.7 278Z" fill="#e41e26"/>
<text x="477.5" y="287.2" font-size="6.6" text-anchor="middle" fill="#333" stroke="#333" stroke-width="0.12" font-family="Liberation Sans">&#948;</text>
<path d="M497.5 247.5V261M494.8 247.5H500.2M494.8 261H500.2" stroke="#6262aa" stroke-width="0.8" fill="none"/>
<path d="M497.5 256V268M494.8 256H500.2M494.8 268H500.2" stroke="#d0604f" stroke-width="0.8" fill="none"/>
<path d="M497.5 263V277.2M494.8 263H500.2M494.8 277.2H500.2" stroke="#6e907c" stroke-width="0.8" fill="none"/>
<circle cx="497.5" cy="254" r="2.7" fill="#2a2c8c"/>
<path d="M497.5 259.5L500.8 262.8L497.5 266.1L494.2 262.8Z" fill="#e41e26"/>
<rect x="494.8" y="268.8" width="5.4" height="5.4" fill="#3c7656"/>
<text x="492" y="265" font-size="6.6" text-anchor="middle" fill="#333" stroke="#333" stroke-width="0.12" font-family="Liberation Sans">&#948;</text>
<polygon points="528.50,212.90 529.01,214.49 530.69,214.49 529.33,215.47 529.85,217.06 528.50,216.07 527.15,217.06 527.67,215.47 526.31,214.49 527.99,214.49" fill="#222"/>
<path d="M528.5 220.5V241M525.8 220.5H531.2M525.8 241H531.2" stroke="#6262aa" stroke-width="0.8" fill="none"/>
<path d="M528.5 238V256.3M525.8 238H531.2M525.8 256.3H531.2" stroke="#d0604f" stroke-width="0.8" fill="none"/>
<circle cx="528.5" cy="229.8" r="2.7" fill="#2a2c8c"/>
<rect x="525.8" y="235.10000000000002" width="5.4" height="5.4" fill="#3c7656"/>
<path d="M528.5 243.5L531.8 246.8L528.5 250.10000000000002L525.2 246.8Z" fill="#e41e26"/>
<circle cx="528.5" cy="292" r="2.7" fill="#fff" stroke="#4a4a90" stroke-width="0.8"/>
<text x="589.9" y="272.8" font-size="6.6" text-anchor="middle" fill="#333" stroke="#333" stroke-width="0.12" font-family="Liberation Sans">&#948;</text>
<path d="M589.4 274V282M586.6999999999999 274H592.1M586.6999999999999 282H592.1" stroke="#d0604f" stroke-width="0.8" fill="none"/>
<path d="M589.4 275.3L592.6999999999999 278.6L589.4 281.90000000000003L586.1 278.6Z" fill="#e41e26"/>
<circle cx="589.4" cy="290" r="2.7" fill="#2a2c8c"/>
<rect x="586.9" y="283.0" width="5.0" height="5.0" fill="#3c7656"/>
<circle cx="589.4" cy="291.3" r="2.7" fill="#fff" stroke="#4a4a90" stroke-width="0.8"/>
<text x="587.5" y="298.1" font-size="6.6" text-anchor="middle" fill="#333" stroke="#333" stroke-width="0.12" font-family="Liberation Sans">&#948;</text>
<polygon points="591.80,294.10 592.29,295.62 593.89,295.62 592.60,296.56 593.09,298.08 591.80,297.14 590.51,298.08 591.00,296.56 589.71,295.62 591.31,295.62" fill="#222"/>
</svg></body></html>
